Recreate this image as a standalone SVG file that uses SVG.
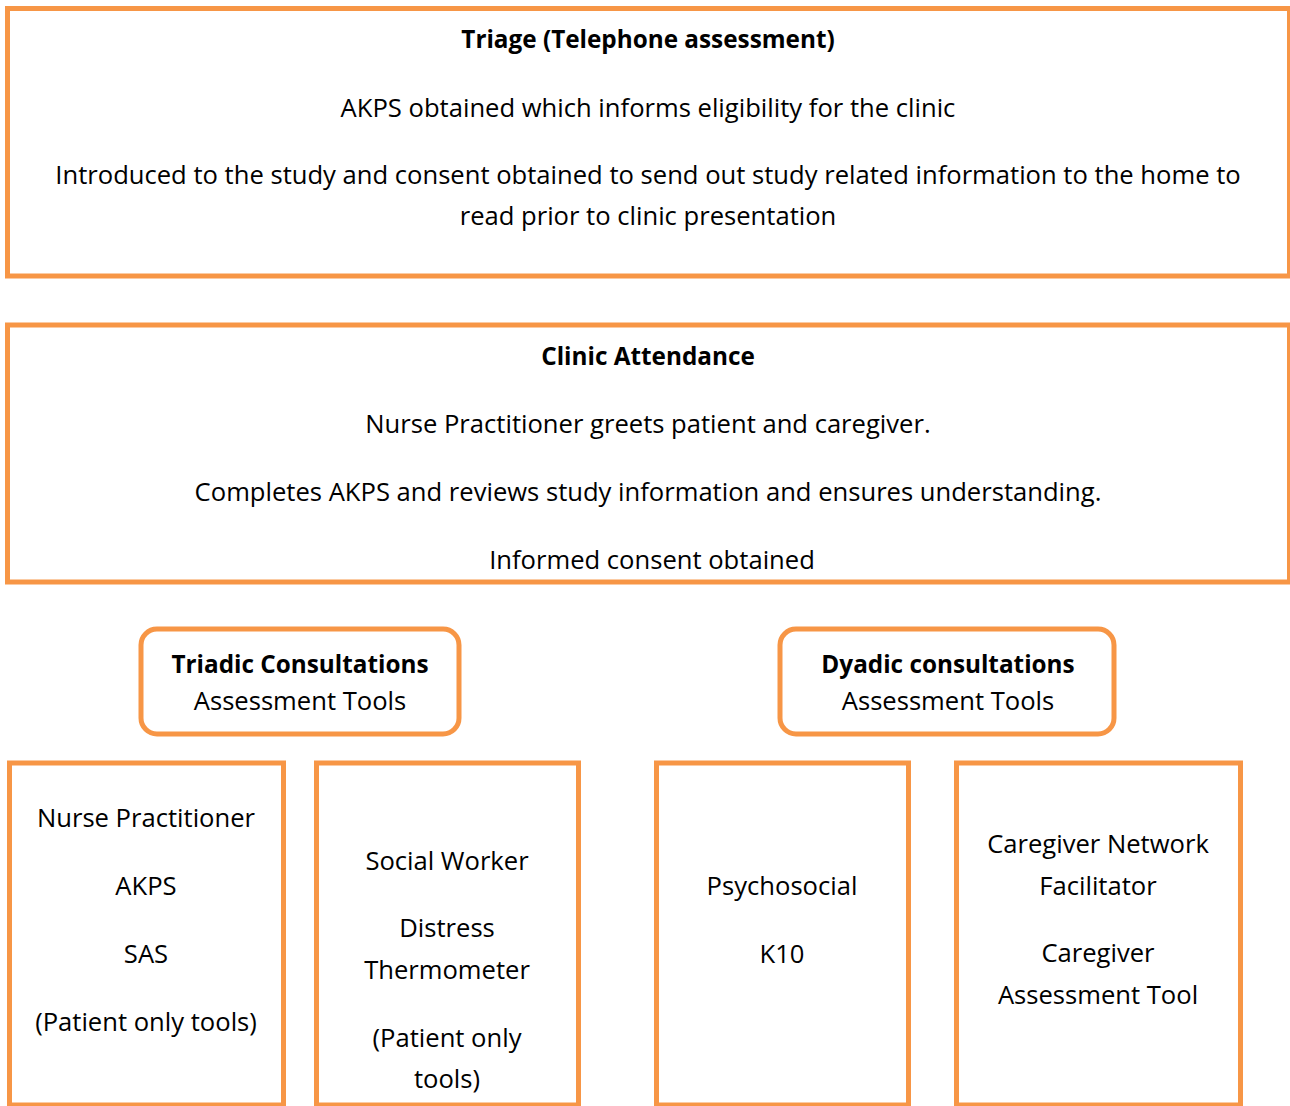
<svg xmlns="http://www.w3.org/2000/svg" width="1290" height="1106" viewBox="0 0 1290 1106">
<style>
.box{fill:#fff;stroke:#F79646;stroke-width:5}
text{font-family:"Open Sans","Liberation Sans",sans-serif;font-size:25.6px;fill:#000;text-anchor:middle}
.b{font-weight:bold;font-size:24.3px}
</style>
<rect width="1290" height="1106" fill="#fff"/>
<g id="triage">
<rect class="box" x="7.5" y="8.5" width="1282" height="267.5"/>
<text class="b" x="648" y="48">Triage (Telephone assessment)</text>
<text x="648" y="117">AKPS obtained which informs eligibility for the clinic</text>
<text x="648" y="184">Introduced to the study and consent obtained to send out study related information to the home to</text>
<text x="648" y="225">read prior to clinic presentation</text>
</g>
<g id="clinic">
<rect class="box" x="7.5" y="325" width="1282" height="257"/>
<text class="b" x="648" y="365">Clinic Attendance</text>
<text x="648" y="433">Nurse Practitioner greets patient and caregiver.</text>
<text x="648" y="501">Completes AKPS and reviews study information and ensures understanding.</text>
<text x="652" y="569">Informed consent obtained</text>
</g>
<g id="triadic">
<rect class="box" x="141" y="629" width="318" height="105" rx="16"/>
<text class="b" x="300" y="673">Triadic Consultations</text>
<text x="300" y="710">Assessment Tools</text>
</g>
<g id="dyadic">
<rect class="box" x="780" y="629" width="334" height="105" rx="16"/>
<text class="b" x="948" y="673">Dyadic consultations</text>
<text x="948" y="710">Assessment Tools</text>
</g>
<g id="nurse">
<rect class="box" x="9.5" y="763" width="274" height="342"/>
<text x="146" y="827">Nurse Practitioner</text>
<text x="146" y="895">AKPS</text>
<text x="146" y="963">SAS</text>
<text x="146" y="1031">(Patient only tools)</text>
</g>
<g id="social">
<rect class="box" x="316.5" y="763" width="262" height="342"/>
<text x="447" y="870">Social Worker</text>
<text x="447" y="937">Distress</text>
<text x="447" y="979">Thermometer</text>
<text x="447" y="1047">(Patient only</text>
<text x="447" y="1088">tools)</text>
</g>
<g id="psycho">
<rect class="box" x="656.5" y="763" width="252" height="342"/>
<text x="782" y="895">Psychosocial</text>
<text x="782" y="963">K10</text>
</g>
<g id="caregiver">
<rect class="box" x="956.5" y="763" width="284" height="342"/>
<text x="1098" y="853">Caregiver Network</text>
<text x="1098" y="895">Facilitator</text>
<text x="1098" y="962">Caregiver</text>
<text x="1098" y="1004">Assessment Tool</text>
</g>
<g id="connectors"></g>
</svg>
